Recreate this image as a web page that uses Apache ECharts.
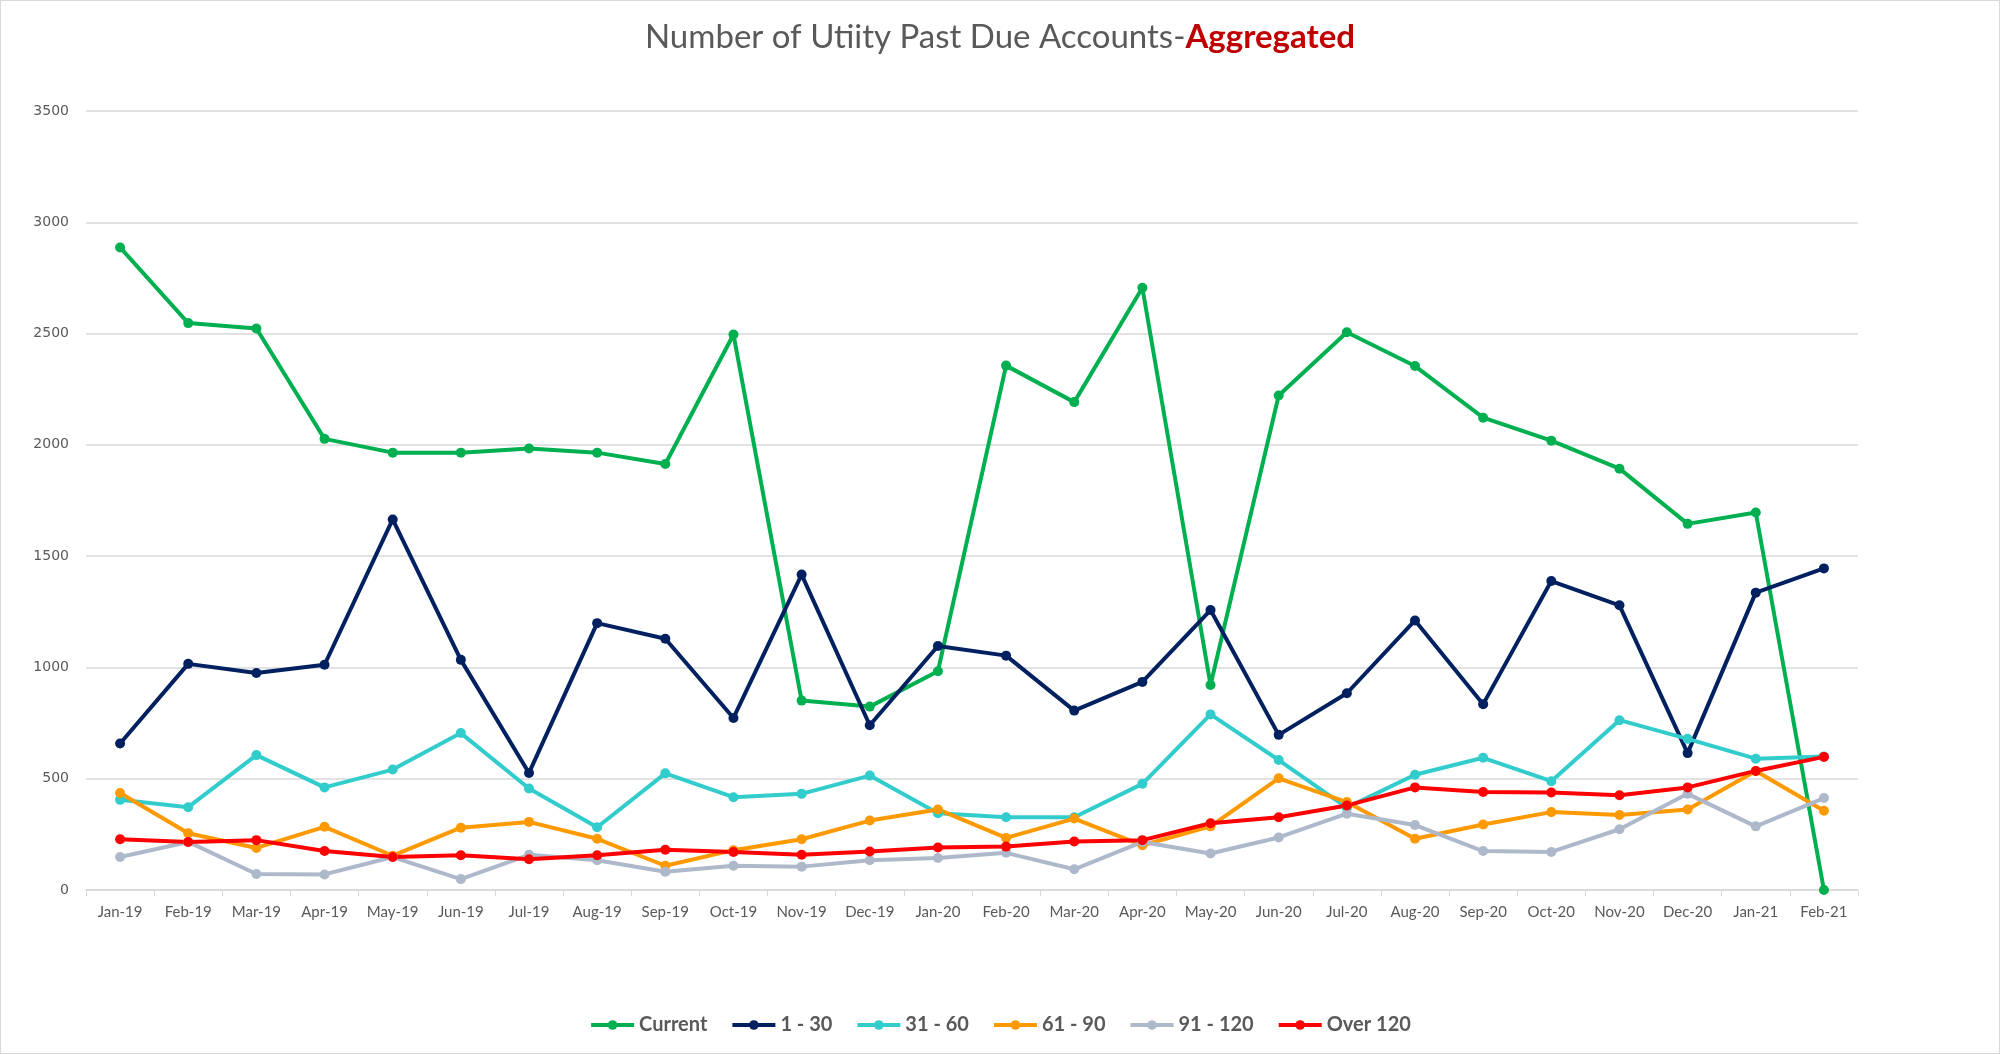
<!DOCTYPE html>
<html>
<head>
<meta charset="utf-8">
<title>Number of Utiity Past Due Accounts-Aggregated</title>
<script src="https://cdn.jsdelivr.net/npm/echarts@6/dist/echarts.min.js"></script>
<style>
	html, body { margin: 0; padding: 0; background: #fff; }
	#main { width: 2000px; height: 1054px; box-sizing: border-box; border: 1px solid #d9d9d9; }
</style>
</head>
<body>
<div id="main"></div>
<script>
	// months on the x axis
	var months = ['Jan-19','Feb-19','Mar-19','Apr-19','May-19','Jun-19','Jul-19','Aug-19','Sep-19','Oct-19','Nov-19','Dec-19',
		'Jan-20','Feb-20','Mar-20','Apr-20','May-20','Jun-20','Jul-20','Aug-20','Sep-20','Oct-20','Nov-20','Dec-20',
		'Jan-21','Feb-21'];

	// values
	var current  = [2887,2547,2523,2027,1965,1965,1984,1965,1914,2496,851,824,983,2356,2192,2706,921,2222,2506,2354,2122,2019,1893,1645,1696,0];
	var d1to30   = [658,1016,975,1012,1665,1034,526,1199,1129,773,1417,740,1096,1053,806,935,1258,697,884,1211,835,1388,1279,615,1336,1445];
	var d31to60  = [405,372,606,461,541,705,456,282,524,417,432,514,345,327,327,477,789,584,370,518,594,489,763,679,590,600];
	var d61to90  = [436,255,189,284,154,280,306,230,109,179,228,312,362,234,321,201,286,502,395,230,294,350,337,362,535,356];
	var d91to120 = [148,216,72,70,148,49,158,134,82,109,105,134,144,167,93,216,164,236,343,292,175,171,273,432,286,413];
	var over120  = [228,216,224,175,148,156,138,156,181,171,158,173,191,195,218,224,300,327,380,461,440,438,426,461,535,598];

	var seriesNames  = ['Current','1 - 30','31 - 60','61 - 90','91 - 120','Over 120'];
	var seriesData   = [current, d1to30, d31to60, d61to90, d91to120, over120];
	var seriesColors = ['#00b050','#002060','#33cccc','#ff9900','#adb9ca','#ff0000'];

	var series = [];
	for (var i = 0; i < seriesNames.length; i++) {
		series.push({
			name: seriesNames[i],
			type: 'line',
			data: seriesData[i],
			symbol: 'circle',
			symbolSize: 10,
			color: seriesColors[i],
			lineStyle: { width: 4, color: seriesColors[i] },
			itemStyle: { color: seriesColors[i] }
		});
	}

	var myChart = echarts.init(document.getElementById('main'));
	var option = {
		animation: false,
		title: {
			text: '{a|Number of Utiity Past Due Accounts-}{b|Aggregated}',
			left: 'center',
			top: 15,
			textStyle: {
				fontWeight: 'normal',
				rich: {
					a: { fontFamily: 'Lato', fontSize: 33, fontWeight: 'normal', color: '#595959' },
					b: { fontFamily: 'Lato', fontSize: 33, fontWeight: 'bold', color: '#c00000' }
				}
			}
		},
		legend: {
			bottom: 13,
			left: 'center',
			itemWidth: 43,
			itemHeight: 12,
			itemGap: 23,
			data: seriesNames,
			lineStyle: { width: 4 },
			textStyle: { fontFamily: 'Lato', fontSize: 20, fontWeight: 'bold', color: '#595959' }
		},
		grid: { left: 85, right: 141, top: 110, bottom: 163, containLabel: false },
		xAxis: {
			type: 'category',
			data: months,
			boundaryGap: true,
			axisLine: { lineStyle: { color: '#d9d9d9', width: 1.5 } },
			axisTick: { show: true, length: 6, lineStyle: { color: '#d9d9d9' } },
			axisLabel: { fontFamily: 'Lato', fontSize: 15, color: '#595959', margin: 15, interval: 0 }
		},
		yAxis: {
			type: 'value',
			min: 0,
			max: 3500,
			interval: 500,
			axisLine: { show: false },
			axisTick: { show: false },
			axisLabel: {
				fontFamily: 'DejaVu Sans', fontSize: 14, color: '#595959', margin: 17,
				formatter: function (v) { return String(v); }
			},
			splitLine: { lineStyle: { color: '#d9d9d9', width: 1.5 } }
		},
		series: series
	};
	myChart.setOption(option);
</script>
</body>
</html>
